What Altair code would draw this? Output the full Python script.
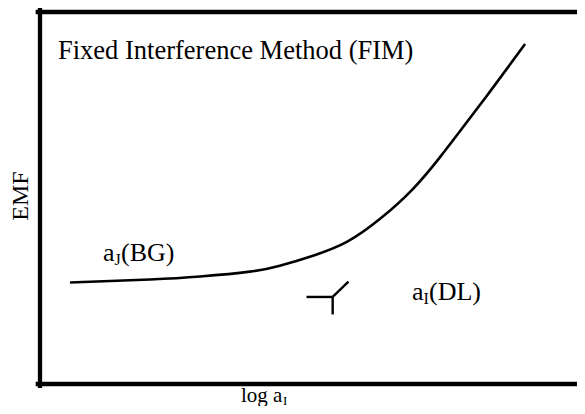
import altair as alt
import pandas as pd

# Axis units are arbitrary (schematic): x = log a_I, y = EMF
# Calibration curve
curve_x = [0.55, 2.02, 2.94, 3.85, 4.40, 5.01, 5.63, 6.24, 6.84, 7.34, 7.76, 8.20, 8.62, 8.90]
curve_y = [2.73, 2.81, 2.89, 3.02, 3.18, 3.45, 3.82, 4.44, 5.24, 6.10, 6.90, 7.75, 8.58, 9.14]

# Detection-limit construction (three segments)
dl_x = [4.89, 5.37, 5.37]
dl_y = [2.34, 2.34, 2.34]
dl_x2 = [5.37, 5.37, 5.66]
dl_y2 = [2.34, 1.87, 2.75]

X_MAX = 9.853
# Frame lines (top, left, bottom)
fr_x = [-0.04, 0.0, -0.04]
fr_x2 = [X_MAX, 0.0, X_MAX]
fr_y = [10.0, -0.05, 0.0]
fr_y2 = [10.0, 10.05, 0.0]

# Text pieces (main text and subscripts)
lab_text = ["Fixed Interference Method (FIM)", "a", "J", "(BG)", "a", "I", "(DL)", "log a", "I"]
lab_x = [0.33, 1.156, 1.367, 1.486, 6.826, 7.037, 7.138, 3.688, 4.459]
lab_y = [8.74, 3.316, 3.209, 3.316, 2.246, 2.139, 2.246, -0.484, -0.565]
lab_size = [26.5, 26, 16, 26, 26, 16, 26, 21, 13]

FONT = "'Liberation Serif', 'Times New Roman', Times, serif"

xs = alt.Scale(domain=[0, X_MAX], nice=False, zero=False)
ys = alt.Scale(domain=[0, 10], nice=False, zero=False)

curve = pd.DataFrame({"x": curve_x, "y": curve_y})
dl = pd.DataFrame({"x": dl_x, "y": dl_y, "x2": dl_x2, "y2": dl_y2})
frame = pd.DataFrame({"x": fr_x, "y": fr_y, "x2": fr_x2, "y2": fr_y2})
labels = pd.DataFrame({"x": lab_x, "y": lab_y, "t": lab_text, "s": lab_size})
emf = pd.DataFrame({"x": [-0.349], "y": [5.053], "t": ["EMF"]})

frame_layer = alt.Chart(frame).mark_rule(color="black", strokeWidth=4.3, strokeCap="square").encode(
    x=alt.X("x:Q", scale=xs, axis=None), x2="x2:Q",
    y=alt.Y("y:Q", scale=ys, axis=None), y2="y2:Q",
)

curve_layer = alt.Chart(curve).mark_line(color="black", strokeWidth=2.6, interpolate="natural").encode(
    x=alt.X("x:Q", scale=xs, axis=None),
    y=alt.Y("y:Q", scale=ys, axis=None),
)

dl_layer = alt.Chart(dl).mark_rule(color="black", strokeWidth=2.4).encode(
    x=alt.X("x:Q", scale=xs, axis=None), x2="x2:Q",
    y=alt.Y("y:Q", scale=ys, axis=None), y2="y2:Q",
)

text_layer = alt.Chart(labels).mark_text(
    font=FONT, align="left", baseline="alphabetic", color="black"
).encode(
    x=alt.X("x:Q", scale=xs, axis=None),
    y=alt.Y("y:Q", scale=ys, axis=None),
    text="t:N",
    size=alt.Size("s:Q", scale=None, legend=None),
)

emf_layer = alt.Chart(emf).mark_text(
    font=FONT, fontSize=24, angle=270, align="center", baseline="middle", color="black"
).encode(
    x=alt.X("x:Q", scale=xs, axis=None),
    y=alt.Y("y:Q", scale=ys, axis=None),
    text="t:N",
)

chart = alt.layer(frame_layer, curve_layer, dl_layer, text_layer, emf_layer).properties(
    width=537,
    height=372,
    padding={"left": 32, "top": 4, "right": 0, "bottom": 22},
    autosize=alt.AutoSizeParams(type="none"),
    background="white",
).configure_view(stroke=None)

chart.save("out.html", embed_options={"renderer": "svg", "actions": False})
